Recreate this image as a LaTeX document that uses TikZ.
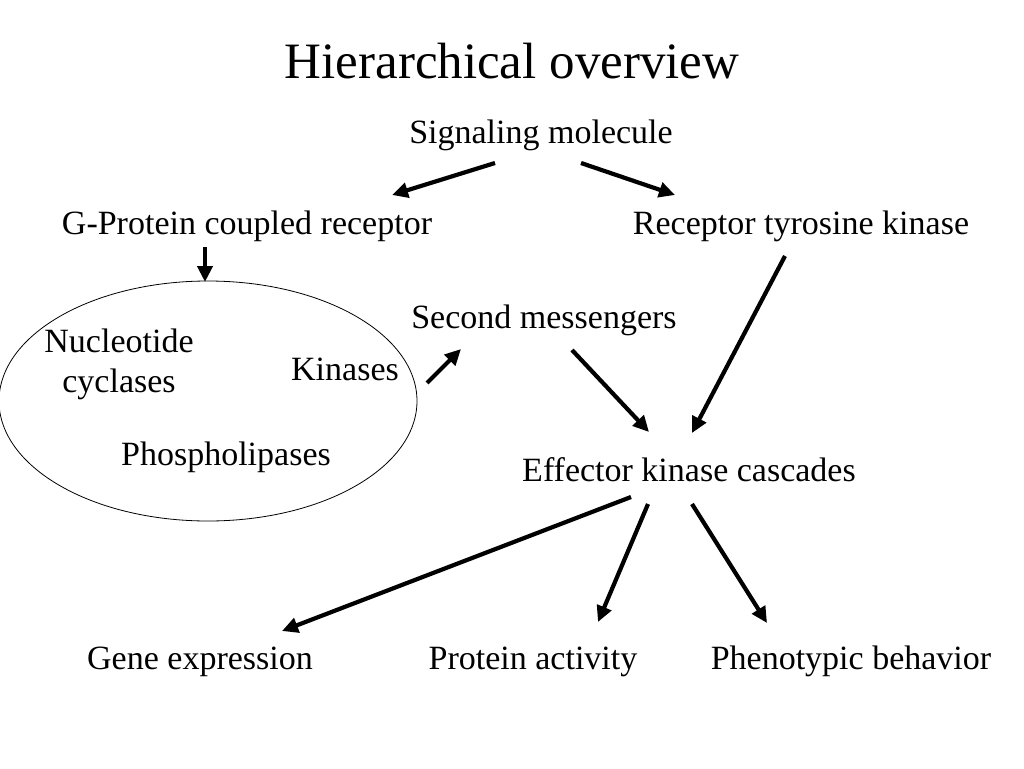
\documentclass[tikz,border=0pt]{standalone}
\usepackage{fontspec}
\setmainfont{Liberation Serif}
\usetikzlibrary{arrows.meta,shapes.geometric}
\begin{document}
\begin{tikzpicture}[x=1pt,y=-1pt,
  lbl/.style={inner sep=0pt,font=\fontsize{34}{40}\selectfont,align=center,text height=0.68em,text depth=0.2em,yshift=-8pt},
  arr/.style={line width=4.2pt,-{Triangle[length=16pt,width=15pt]}}]
\useasboundingbox (0,0) rectangle (1024,768);
\node[inner sep=0pt,font=\fontsize{51}{58}\selectfont,text height=0.68em,text depth=0.2em,yshift=-14pt] (title) at (512,62) {Hierarchical overview};
\node[lbl] (sig) at (541,133) {Signaling molecule};
\node[lbl] (gpcr) at (247,224) {G-Protein coupled receptor};
\node[lbl] (rtk) at (801,224) {Receptor tyrosine kinase};
\node[draw,ellipse,minimum width=418pt,minimum height=240pt,line width=0.8pt,inner sep=0pt] (ell) at (208,401) {};
\node[inner sep=0pt,font=\fontsize{34}{40}\selectfont,align=center] (nuc) at (119,364) {Nucleotide\\cyclases};
\node[lbl] (kin) at (345,370) {Kinases};
\node[lbl] (pho) at (226,455) {Phospholipases};
\node[lbl] (sec) at (544,318) {Second messengers};
\node[lbl] (eff) at (689,471) {Effector kinase cascades};
\node[lbl] (gene) at (200,659) {Gene expression};
\node[lbl] (prot) at (533,659) {Protein activity};
\node[lbl] (phen) at (851,659) {Phenotypic behavior};
% arrow end points
\coordinate (as1) at (495,163); \coordinate (ae1) at (392,195);
\coordinate (as2) at (581,163); \coordinate (ae2) at (675,195);
\coordinate (as3) at (205,247); \coordinate (ae3) at (205,282);
\coordinate (as4) at (427,383); \coordinate (ae4) at (461,349);
\coordinate (as5) at (572,350); \coordinate (ae5) at (649,432);
\coordinate (as6) at (785,256); \coordinate (ae6) at (692,433);
\coordinate (as7) at (631,497); \coordinate (ae7) at (282,631);
\coordinate (as8) at (648,504); \coordinate (ae8) at (598,622);
\coordinate (as9) at (692,504); \coordinate (ae9) at (767,623);
\foreach \i in {1,...,9} \draw[arr] (as\i) -- (ae\i);
\end{tikzpicture}
\end{document}
